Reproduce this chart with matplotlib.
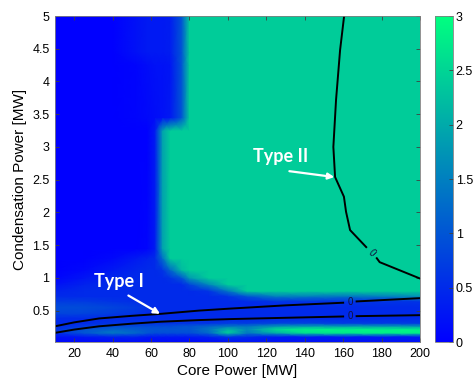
#!/usr/bin/env python3
# -*- coding: utf-8 -*-

import numpy as np
import matplotlib
matplotlib.use("Agg")
import matplotlib.pyplot as plt

# grid nodes (core power / condensation power, MW)
core_power = [10, 25, 40, 52, 58, 62, 66, 70, 76, 80, 90, 100, 110, 125, 140, 160, 180, 200]
cond_power = [0.02, 0.10, 0.16, 0.21, 0.26, 0.31, 0.38, 0.46, 0.55, 0.64, 0.72,
              0.80, 0.90, 1.00, 1.12, 1.30, 1.45, 3.25, 3.45, 4.25, 4.45, 5.00]

G = 2.4  # value of the big green plateau
field = [
    [0.1, 0.1, 0.1, 0.1, 0.1, 0.1, 0.1, 0.1, 0.1, 0.1, 0.1, 0.15, 0.2, 0.2, 0.2, 0.2, 0.2, 0.2],
    [0.2, 0.3, 0.4, 0.4, 0.3, 0.3, 0.3, 0.3, 0.3, 0.3, 0.4, 0.6, 0.5, 0.3, 0.3, 0.3, 0.3, 0.3],
    [0.5, 1.0, 1.4, 1.2, 1.0, 0.9, 0.9, 0.9, 0.9, 0.9, 1.2, 2.4, 1.4, 2.0, 2.6, 2.7, 2.8, 2.8],
    [0.6, 1.0, 1.2, 1.1, 1.0, 1.0, 1.0, 1.0, 1.0, 1.0, 1.4, 2.2, 1.6, 2.6, 2.9, 2.9, 2.9, 2.9],
    [0.5, 0.7, 0.9, 0.9, 0.9, 0.9, 0.9, 0.9, 1.0, 1.0, 1.2, 1.4, 1.4, 1.8, 1.9, 1.9, 1.9, 1.8],
    [0.5, 0.5, 0.6, 0.6, 0.6, 0.6, 0.6, 0.6, 0.6, 0.6, 0.6, 0.7, 0.7, 0.8, 0.8, 0.7, 0.7, 0.7],
    [0.5, 0.5, 0.5, 0.5, 0.5, 0.5, 0.5, 0.5, 0.5, 0.5, 0.5, 0.5, 0.5, 0.5, 0.5, 0.5, 0.5, 0.5],
    [0.8, 0.8, 0.7, 0.6, 0.5, 0.5, 0.5, 0.5, 0.5, 0.5, 0.5, 0.5, 0.5, 0.5, 0.5, 0.5, 0.5, 0.5],
    [0.9, 0.9, 0.8, 0.7, 0.6, 0.5, 0.5, 0.5, 0.5, 0.5, 0.5, 0.5, 0.5, 0.5, 0.5, 0.5, 0.5, 0.5],
    [0.7, 0.7, 0.6, 0.55, 0.5, 0.5, 0.5, 0.5, 0.5, 0.5, 0.5, 0.5, 0.5, 0.6, 0.6, 0.6, 0.6, 0.6],
    [0.5, 0.5, 0.5, 0.5, 0.5, 0.5, 0.5, 0.5, 0.5, 0.5, 0.5, 0.6, 1.0, 1.5, 1.5, 1.4, 1.5, 1.7],
    [0.4, 0.5, 0.5, 0.5, 0.5, 0.5, 0.5, 0.5, 0.5, 0.5, 0.6, 1.4, G, G, G, G, G, G],
    [0.2, 0.4, 0.5, 0.5, 0.5, 0.5, 0.5, 0.5, 0.5, 0.8, 1.6, G, G, G, G, G, G, G],
    [0.05, 0.25, 0.45, 0.5, 0.5, 0.5, 0.5, 0.6, 1.0, 1.8, G, G, G, G, G, G, G, G],
    [0.0, 0.1, 0.3, 0.45, 0.5, 0.5, 0.6, 1.2, 2.2, G, G, G, G, G, G, G, G, G],
    [0.0, 0.0, 0.1, 0.3, 0.4, 0.5, 1.3, G, G, G, G, G, G, G, G, G, G, G],
    [0.0, 0.0, 0.0, 0.0, 0.05, 0.3, 1.9, G, G, G, G, G, G, G, G, G, G, G],
    [0.0, 0.0, 0.0, 0.0, 0.0, 0.3, 1.9, G, G, G, G, G, G, G, G, G, G, G],
    [0.0, 0.0, 0.0, 0.05, 0.1, 0.15, 0.2, 0.3, 1.0, G, G, G, G, G, G, G, G, G],
    [0.0, 0.0, 0.0, 0.05, 0.15, 0.2, 0.2, 0.25, 1.0, G, G, G, G, G, G, G, G, G],
    [0.0, 0.0, 0.0, 0.2, 0.3, 0.3, 0.3, 0.35, 1.0, G, G, G, G, G, G, G, G, G],
    [0.0, 0.0, 0.0, 0.2, 0.3, 0.3, 0.3, 0.35, 1.0, G, G, G, G, G, G, G, G, G],
]

# zero contours (nan = gap where the "0" label sits)
nan = np.nan
type1_upper_x = [10, 20, 33, 50, 65, 85, 101, 130, 160, nan, 167, 200]
type1_upper_y = [0.26, 0.32, 0.38, 0.42, 0.45, 0.50, 0.53, 0.58, 0.62, nan, 0.64, 0.69]
type1_lower_x = [10, 20, 33, 50, 65, 85, 101, 130, 160, nan, 167, 200]
type1_lower_y = [0.16, 0.21, 0.26, 0.30, 0.33, 0.355, 0.37, 0.39, 0.41, nan, 0.415, 0.43]
type2_x = [160.5, 158.4, 156.3, 154.9, 155.8, 160.4, 161.5, 163.6, 172.0, nan, 177.5, 179, 200]
type2_y = [5.0, 4.48, 3.72, 3.0, 2.54, 2.24, 2.01, 1.73, 1.47, nan, 1.30, 1.24, 0.99]

x_ticks = [20, 40, 60, 80, 100, 120, 140, 160, 180, 200]
y_ticks = [0.5, 1, 1.5, 2, 2.5, 3, 3.5, 4, 4.5, 5]
cbar_ticks = [0, 0.5, 1, 1.5, 2, 2.5, 3]


def fmt(v):
    return ("%g" % v)


plt.rcParams["font.family"] = ["Liberation Sans", "DejaVu Sans"]

fig = plt.figure(figsize=(4.75, 3.82), dpi=100)
ax = fig.add_axes([0.1158, 0.1047, 0.7684, 0.8533])
cax = fig.add_axes([0.9158, 0.1047, 0.0379, 0.8533])

mesh = ax.pcolormesh(core_power, cond_power, np.array(field), shading="gouraud",
                     cmap="winter", vmin=0, vmax=3, rasterized=True)

for xs, ys in [(type1_upper_x, type1_upper_y), (type1_lower_x, type1_lower_y), (type2_x, type2_y)]:
    ax.plot(xs, ys, color="black", lw=1.4)

# contour labels
lab = dict(color="#101040", fontsize=7, ha="center", va="center")
ax.text(163.5, 0.625, "0", **lab)
ax.text(163.5, 0.41, "0", **lab)
ax.text(174.8, 1.385, "0", rotation=-47, **lab)

# annotations
ann = dict(color="white", fontsize=13, fontweight="bold", family=["Lato", "DejaVu Sans"],
           ha="center", va="center")
arr = dict(arrowstyle="-|>", color="white", lw=1.6, mutation_scale=9, shrinkA=0, shrinkB=0)
ax.annotate("", xy=(64.7, 0.45), xytext=(48.2, 0.73), arrowprops=arr)
ax.annotate("", xy=(155.4, 2.54), xytext=(132, 2.63), arrowprops=arr)
ax.text(43.3, 0.94, "Type I", **ann)
ax.text(127.7, 2.85, "Type II", **ann)

ax.set_xlim(10, 200)
ax.set_ylim(0.02, 5)
ax.set_xticks(x_ticks)
ax.set_yticks(y_ticks)
ax.set_xticklabels([fmt(v) for v in x_ticks])
ax.set_yticklabels([fmt(v) for v in y_ticks])
ax.tick_params(direction="in", length=3, width=0.6, labelsize=9, top=True, right=True,
               color="#404040", pad=4)
for s in ax.spines.values():
    s.set_color("#808080")
    s.set_linewidth(0.6)
ax.set_xlabel("Core Power [MW]", fontsize=11, labelpad=3)
ax.set_ylabel("Condensation Power [MW]", fontsize=11, labelpad=4)

cb = fig.colorbar(mesh, cax=cax, ticks=cbar_ticks)
cb.ax.set_yticklabels([fmt(v) for v in cbar_ticks])
cb.ax.tick_params(direction="in", length=3, width=0.6, labelsize=9, color="#404040", pad=2)
cb.outline.set_edgecolor("#808080")
cb.outline.set_linewidth(0.6)

fig.savefig("out.png", dpi=100)
